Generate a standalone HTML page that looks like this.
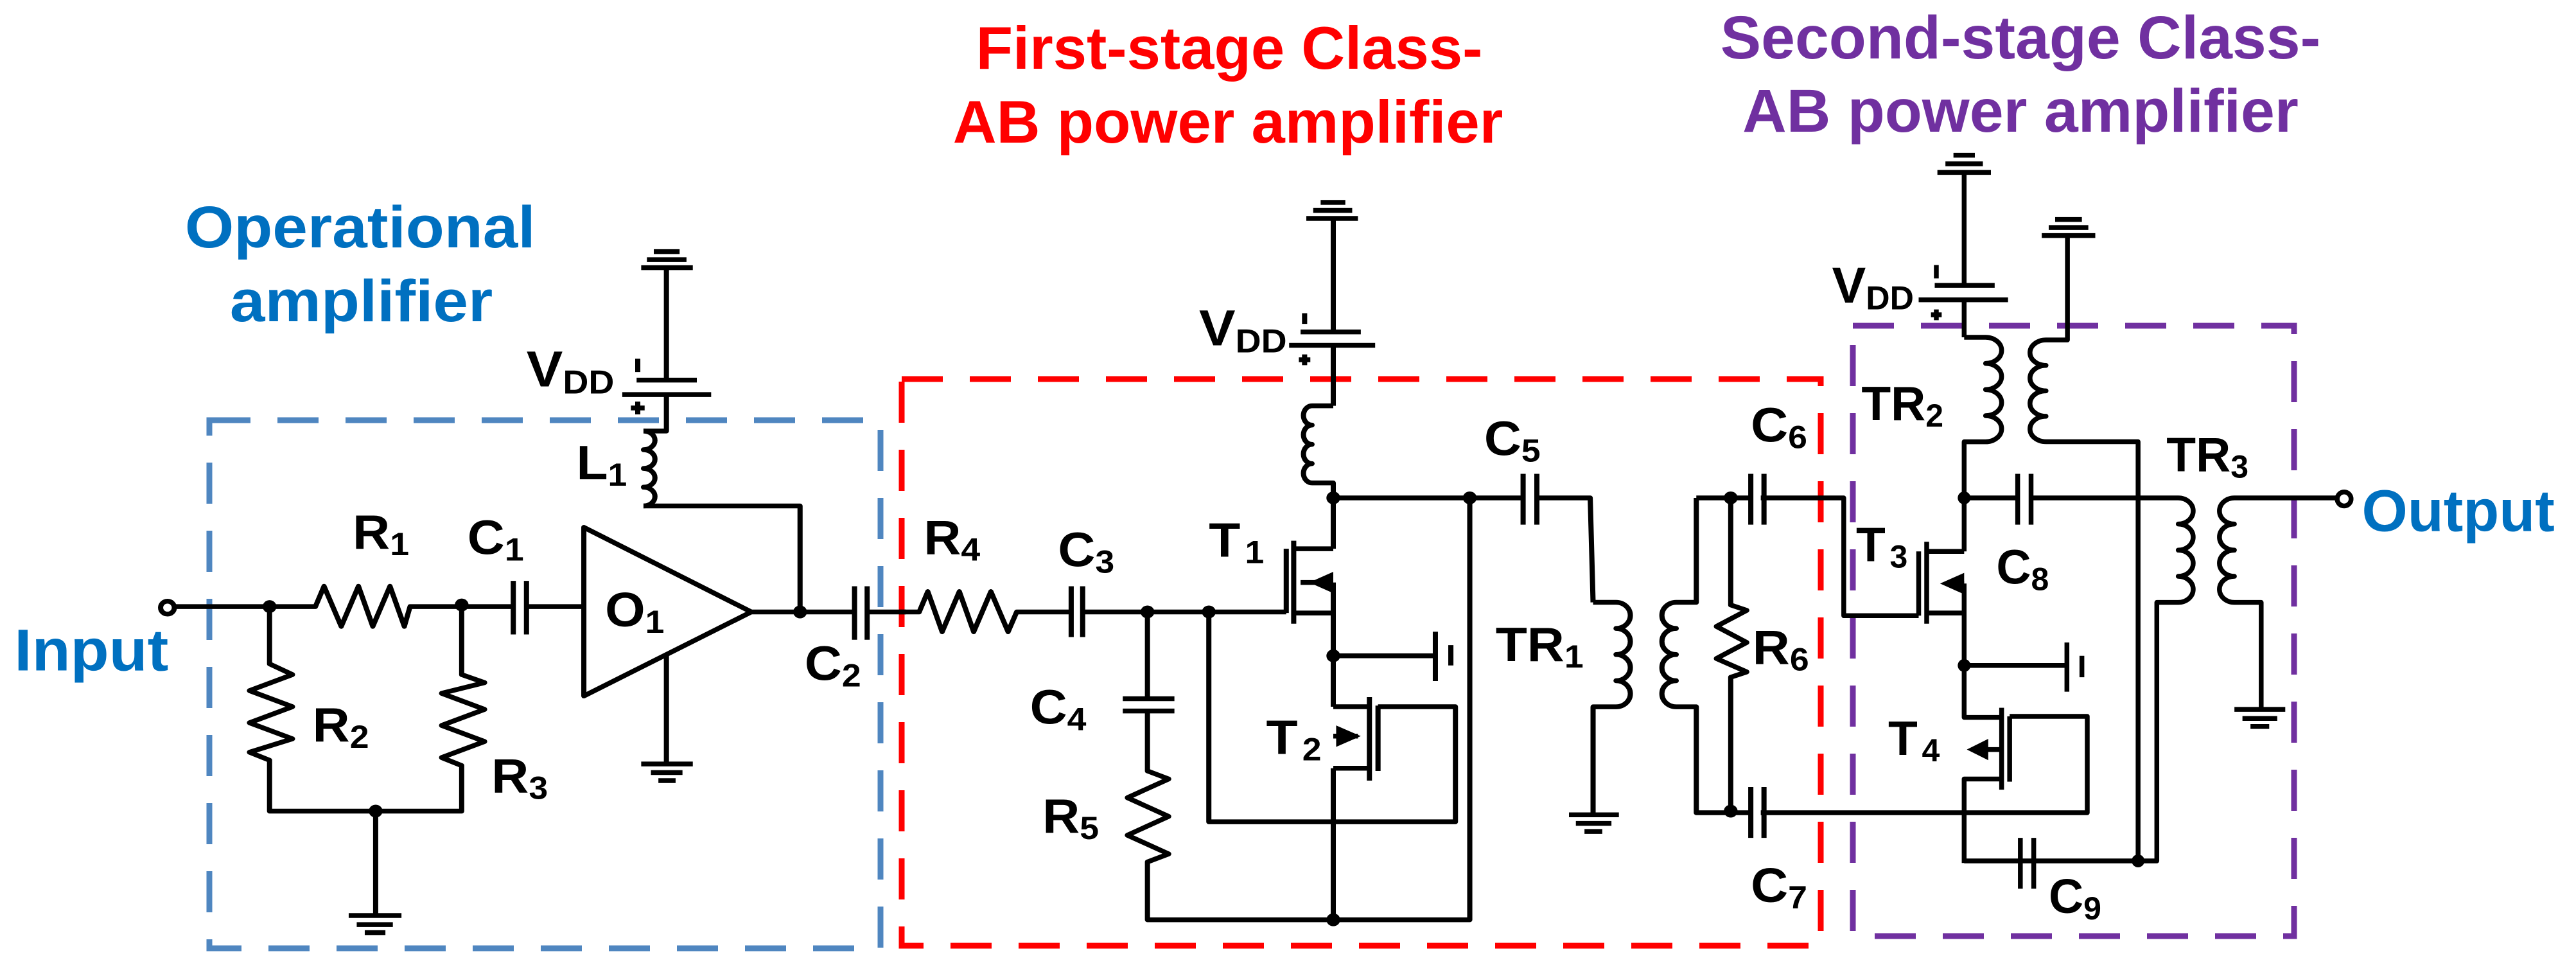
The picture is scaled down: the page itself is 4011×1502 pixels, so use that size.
<!DOCTYPE html>
<html><head><meta charset="utf-8"><style>
html,body{margin:0;padding:0;background:#fff}
svg{display:block}
text{font-family:"Liberation Sans",Arial,sans-serif;font-weight:bold}
</style></head><body>
<svg width="4011" height="1502" viewBox="0 0 4011 1502" xmlns="http://www.w3.org/2000/svg">
<rect width="4011" height="1502" fill="#fff"/>
<!-- titles -->
<text x="1914" y="107" font-size="94" fill="#ff0000" text-anchor="middle">First-stage Class-</text>
<text x="1912" y="222" font-size="94" fill="#ff0000" text-anchor="middle">AB power amplifier</text>
<text x="3146" y="91" font-size="95" fill="#7030a0" text-anchor="middle">Second-stage Class-</text>
<text x="3146" y="205" font-size="95" fill="#7030a0" text-anchor="middle">AB power amplifier</text>
<!-- boxes -->
<rect x="326" y="654" width="1045" height="822" fill="none" stroke="#4f86c0" stroke-width="9" stroke-dasharray="64 42"/>
<rect x="1404" y="590" width="1431" height="882" fill="none" stroke="#ff0000" stroke-width="9" stroke-dasharray="64 42"/>
<rect x="2885" y="507" width="687" height="950" fill="none" stroke="#7030a0" stroke-width="9" stroke-dasharray="64 42"/>

<g fill="none" stroke="#000" stroke-width="9" stroke-linejoin="round">
<!-- ZONE A -->
<g transform="translate(0,200) scale(0.893,0.8333)">
<text x="628" y="222" font-size="110" fill="#0070c0" stroke="none" text-anchor="middle">Operational</text>
<text x="630" y="360" font-size="110" fill="#0070c0" stroke="none" text-anchor="middle">amplifier</text>
<text x="25" y="1012" font-size="110" fill="#0070c0" stroke="none">Input</text>
<path d="M1140,230H1185M1128,245H1197M1118,260H1208M1162,260V470M1110,470H1215M1085,497H1240M1112,430V455M1100,522H1124M1112,510V534M1162,497V565H1122"/>
<path d="M1122,565a20,17.5 0 0 1 0,35a20,17.5 0 0 1 0,35a20,17.5 0 0 1 0,35a20,17.5 0 0 1 0,35"/>
<path d="M1122,705H1395V903"/>
<circle cx="292" cy="895" r="12"/>
<path d="M304,893H550L565,855L595,930L625,855L650,930L680,855L705,930L715,893H895M895,845V945M918,845V945M918,893H1018"/>
<path d="M1018,745L1018,1060L1310,903ZM1310,903H1490M1490,855V955M1512,855V955M1512,903H1580"/>
<path d="M1162,985V1187M1118,1187H1208M1135,1203H1190M1148,1218H1178"/>
<path d="M470,893V1000L510,1020L435,1050L510,1080L435,1110L510,1140L435,1165L470,1180V1275H805V1190L770,1175L845,1145L770,1115L845,1085L770,1055L845,1035L805,1020V893"/>
<path d="M655,1275V1470M608,1470H700M622,1487H685M636,1502H672"/>
<g fill="#000" stroke="none">
<circle cx="470" cy="893" r="12"/><circle cx="805" cy="890" r="12"/><circle cx="1395" cy="903" r="12"/><circle cx="655" cy="1275" r="12"/>
<text x="918" y="482" font-size="95">V<tspan font-size="62" dy="13">DD</tspan></text>
<text x="1005" y="655" font-size="90">L<tspan font-size="60" dy="12">1</tspan></text>
<text x="615" y="785" font-size="90">R<tspan font-size="60" dy="12">1</tspan></text>
<text x="815" y="795" font-size="90">C<tspan font-size="60" dy="12">1</tspan></text>
<text x="1055" y="930" font-size="90">O<tspan font-size="60" dy="12">1</tspan></text>
<text x="545" y="1145" font-size="90">R<tspan font-size="60" dy="12">2</tspan></text>
<text x="857" y="1240" font-size="90">R<tspan font-size="60" dy="12">3</tspan></text>
<text x="1403" y="1030" font-size="90">C<tspan font-size="60" dy="12">2</tspan></text>
</g>
</g>

<!-- ZONE B -->
<g transform="translate(1400,200) scale(0.893,0.8333)">
<path d="M0,903H35L50,865L75,940L105,865L130,940L160,865L190,940L205,903H300M300,855V950M320,855V950M320,903H675"/>
<path d="M433,903V1065M390,1065H480M390,1088H480M433,1088V1200L470,1215L398,1250L470,1285L398,1320L470,1355L433,1370V1478H995V690"/>
<path d="M540,903V1295H970V1080H835M835,1078V1200M820,1062V1218M757,1080H820M757,1195H820M757,1135H800"/>
<path d="M675,785V905M688,770V925M688,785H757M688,905H757M757,848H700M757,690V785M757,848V1080M757,1195V1478"/>
<path d="M757,985H935M935,940V1032M962,965V1003"/>
<path d="M735,138H778M722,153H790M710,168H800M757,168V380M700,380H805M680,405H830M707,345V365M697,432H717M707,422V442M757,405V518"/>
<path d="M757,518H720a15,18 0 0 0 0,36a15,18 0 0 0 0,36a15,18 0 0 0 0,36a15,18 0 0 0 0,36H757V690"/>
<path d="M757,690H1088M1088,645V740M1112,645V740M1112,690H1205L1210,885"/>
<path d="M1210,885H1250a25,24.4 0 0 1 0,48.8a25,24.4 0 0 1 0,48.8a25,24.4 0 0 1 0,48.8a25,24.4 0 0 1 0,48.8H1210V1282M1168,1282H1255M1180,1298H1242M1195,1313H1226"/>
<path d="M1390,690V885H1355a25,24.4 0 0 0 0,48.8a25,24.4 0 0 0 0,48.8a25,24.4 0 0 0 0,48.8a25,24.4 0 0 0 0,48.8H1390V1278H1485M1485,1230V1325M1508,1230V1325"/>
<path d="M1390,690H1485M1485,645V740M1508,645V740"/>
<path d="M1450,690V890L1478,900L1425,930L1478,960L1425,990L1478,1015L1450,1025V1278"/>
<g fill="#000" stroke="none">
<path d="M715,848L757,828L757,868Z"/><path d="M805,1135L762,1115L762,1155Z"/>
<circle cx="433" cy="903" r="12"/><circle cx="540" cy="903" r="12"/><circle cx="757" cy="690" r="12"/><circle cx="995" cy="690" r="12"/>
<circle cx="757" cy="985" r="12"/><circle cx="757" cy="1478" r="12"/><circle cx="1450" cy="690" r="12"/><circle cx="1450" cy="1275" r="12"/>
<text x="523" y="405" font-size="95">V<tspan font-size="62" dy="13">DD</tspan></text>
<text x="43" y="795" font-size="90">R<tspan font-size="60" dy="12">4</tspan></text>
<text x="277" y="818" font-size="90">C<tspan font-size="60" dy="12">3</tspan></text>
<text x="540" y="800" font-size="90">T<tspan font-size="60" dy="12" dx="8">1</tspan></text>
<text x="228" y="1112" font-size="90">C<tspan font-size="60" dy="12">4</tspan></text>
<text x="250" y="1315" font-size="90">R<tspan font-size="60" dy="12">5</tspan></text>
<text x="640" y="1168" font-size="90">T<tspan font-size="60" dy="12" dx="8">2</tspan></text>
<text x="1040" y="995" font-size="90">TR<tspan font-size="60" dy="12">1</tspan></text>
<text x="1020" y="610" font-size="90">C<tspan font-size="60" dy="12">5</tspan></text>
<text x="1485" y="585" font-size="90">C<tspan font-size="60" dy="12">6</tspan></text>
<text x="1488" y="1000" font-size="90">R<tspan font-size="60" dy="12">6</tspan></text>
<text x="1485" y="1445" font-size="90">C<tspan font-size="60" dy="12">7</tspan></text>
</g>
</g>

<!-- ZONE C -->
<g transform="translate(2700,200) scale(0.8333)">
<path d="M50,690H205V910H345M345,790V910M360,772V925M360,790H430M360,905H430M430,850H395"/>
<path d="M410,50H450M395,66H465M380,82H480M430,82V293M375,293H487M345,320H512M378,255V280M368,348H388M378,338V358M430,320V390"/>
<path d="M430,390H470a30,24.4 0 0 1 0,48.8a30,24.4 0 0 1 0,48.8a30,24.4 0 0 1 0,48.8a30,24.4 0 0 1 0,48.8H430V790"/>
<path d="M600,170H650M588,185H662M575,200H675M623,200V395H583a30,23.75 0 0 0 0,47.5a30,23.75 0 0 0 0,47.5a30,23.75 0 0 0 0,47.5a30,23.75 0 0 0 0,47.5H755V1368"/>
<path d="M430,690H530M530,645V740M555,645V740M555,690H830a28,24.4 0 0 1 0,48.8a28,24.4 0 0 1 0,48.8a28,24.4 0 0 1 0,48.8a28,24.4 0 0 1 0,48.8H790V1368H430"/>
<path d="M430,850V1100H500M500,1082V1235M515,1098V1220M515,1098H660V1278H50M500,1160H445M500,1215H430V1372"/>
<path d="M535,1325V1420M560,1325V1420"/>
<path d="M430,1003H622M622,960V1052M650,985V1025"/>
<path d="M975,690H1127M975,690H935a28,24.4 0 0 0 0,48.8a28,24.4 0 0 0 0,48.8a28,24.4 0 0 0 0,48.8a28,24.4 0 0 0 0,48.8H985V1085M935,1085H1030M950,1102H1015M965,1117H1000"/>
<circle cx="1140" cy="692" r="13"/>
<g fill="#000" stroke="none">
<path d="M385,850L430,830L430,870Z"/><path d="M435,1160L475,1140L475,1180Z"/>
<circle cx="430" cy="690" r="12"/><circle cx="430" cy="1003" r="12"/><circle cx="755" cy="1368" r="12"/>
<text x="183" y="325" font-size="95">V<tspan font-size="62" dy="13">DD</tspan></text>
<text x="238" y="545" font-size="90">TR<tspan font-size="60" dy="12">2</tspan></text>
<text x="228" y="808" font-size="90">T<tspan font-size="60" dy="12" dx="8">3</tspan></text>
<text x="490" y="850" font-size="90">C<tspan font-size="60" dy="12">8</tspan></text>
<text x="808" y="640" font-size="90">TR<tspan font-size="60" dy="12">3</tspan></text>
<text x="288" y="1170" font-size="90">T<tspan font-size="60" dy="12" dx="8">4</tspan></text>
<text x="588" y="1465" font-size="90">C<tspan font-size="60" dy="12">9</tspan></text>
<text x="1173" y="752" font-size="110" fill="#0070c0">Output</text>
</g>
</g>
</g>
</svg>
</body></html>
